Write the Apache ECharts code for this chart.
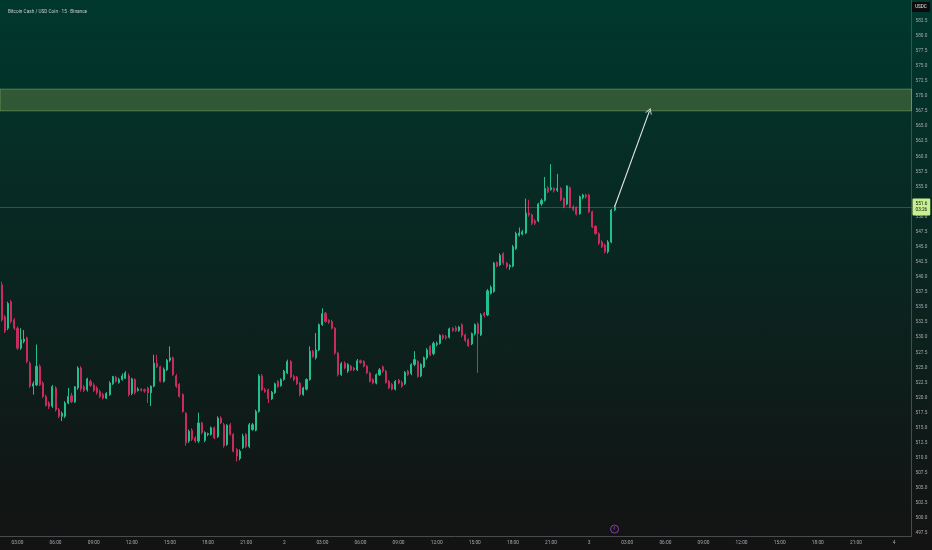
<!DOCTYPE html>
<html>
<head>
<meta charset="utf-8">
<script src="https://cdn.jsdelivr.net/npm/echarts@6/dist/echarts.min.js"></script>
<style>
html,body{margin:0;padding:0;background:#131313;}
#chart{width:932px;height:550px;background:linear-gradient(to bottom,#00382d 0px,#131313 536px,#131313 550px);}
</style>
</head>
<body>
<div id="chart"></div>
<script>
// ---------- DATA ----------
const chartTitle = 'Bitcoin Cash / USD Coin · 15 · Binance';
const quoteCurrency = 'USDC';

// 15-minute slots, starting day 1 01:45
const times = [];
for (let i = 0; i < 287; i++) {
  const t = 105 + 15 * i;
  const day = 1 + Math.floor(t / 1440);
  const m = t % 1440;
  const hh = String(Math.floor(m / 60)).padStart(2, '0');
  const mm = String(m % 60).padStart(2, '0');
  times.push(day + ' ' + hh + ':' + mm);
}

const opens = [
  538.7, 533.4, 531.5, 535.9, 532.9, 531.5, 528.2, 529.3, 529.9, 525.7,
  521.9, 522.1, 525.2, 522.4, 520.2, 519.1, 518.6, 521.6, 518.0, 516.9,
  516.9, 519.1, 520.3, 519.3, 521.6, 524.9, 521.8, 521.3, 522.7, 522.1,
  521.6, 521.0, 520.5, 519.9, 520.5, 522.3, 523.4, 522.5, 523.0, 523.2,
  523.6, 520.7, 523.0, 521.2, 521.4, 521.3, 521.6, 520.8, 521.9, 525.7,
  525.1, 522.7, 524.6, 526.2, 526.6, 523.6, 522.2, 520.5, 517.4, 512.8,
  514.6, 513.3, 512.8, 515.8, 512.9, 513.9, 513.9, 515.0, 513.5, 516.6,
  515.5, 512.2, 515.5, 513.9, 511.4, 509.9, 511.7, 513.9, 511.9, 514.7,
  514.6, 517.7, 523.6, 521.3, 521.3, 519.8, 520.8, 522.7, 522.0, 523.0,
  524.1, 526.0, 523.5, 523.4, 522.4, 520.5, 521.4, 523.0, 527.7, 526.6,
  527.9, 532.1, 534.0, 532.8, 532.6, 531.5, 527.4, 523.8, 525.7, 524.4,
  525.2, 524.9, 524.6, 526.1, 526.0, 525.2, 524.1, 523.0, 522.4, 523.8,
  525.1, 524.4, 522.7, 522.2, 521.4, 522.9, 522.5, 522.3, 524.4, 524.0,
  525.5, 526.0, 523.6, 525.1, 526.6, 528.5, 527.3, 528.8, 529.0, 530.3,
  530.1, 530.0, 531.5, 531.6, 531.1, 532.1, 530.4, 529.6, 528.9, 530.6,
  532.2, 530.4, 534.0, 533.7, 537.3, 537.6, 542.4, 542.0, 543.9, 542.3,
  541.7, 541.8, 544.7, 546.9, 547.1, 547.3, 550.6, 550.3, 549.3, 549.3,
  552.1, 552.7, 554.8, 554.5, 554.7, 554.4, 554.7, 553.0, 552.1, 554.8,
  551.6, 551.5, 550.5, 553.2, 553.6, 553.6, 550.8, 548.4, 547.2, 545.8,
  545.3, 544.2, 545.8, 551.1
];
const closes = [
  532.9, 531.0, 535.6, 532.6, 531.5, 528.2, 529.6, 529.7, 526.0, 521.9,
  522.3, 525.2, 522.1, 520.2, 518.7, 518.5, 521.8, 518.0, 516.9, 517.4,
  519.1, 520.2, 519.3, 521.8, 524.9, 521.4, 521.2, 523.1, 522.0, 521.2,
  520.8, 520.2, 519.9, 520.7, 522.4, 523.5, 522.7, 523.0, 523.6, 524.1,
  520.5, 523.1, 520.8, 521.4, 521.2, 521.1, 520.8, 521.9, 525.7, 525.1,
  522.7, 524.7, 526.2, 526.6, 523.8, 521.9, 520.2, 517.7, 512.5, 514.4,
  513.1, 512.8, 515.8, 514.2, 514.2, 514.0, 515.0, 513.3, 516.6, 515.8,
  512.0, 515.4, 513.9, 511.1, 510.3, 511.1, 513.6, 511.9, 515.5, 515.5,
  517.7, 523.6, 521.3, 521.0, 519.8, 520.9, 522.3, 521.8, 523.0, 524.4,
  526.0, 523.4, 523.0, 522.3, 520.5, 521.6, 523.0, 527.7, 526.8, 527.9,
  532.1, 533.9, 532.6, 532.5, 531.5, 527.4, 523.8, 525.6, 524.9, 525.5,
  524.6, 524.6, 526.1, 525.8, 525.2, 524.1, 522.7, 522.4, 523.8, 524.6,
  524.4, 522.5, 521.6, 521.4, 522.7, 522.4, 521.9, 524.2, 523.8, 525.5,
  526.3, 523.5, 525.5, 526.6, 527.9, 527.1, 529.0, 529.0, 530.3, 529.9,
  529.9, 531.4, 531.1, 531.1, 531.7, 530.3, 529.5, 528.6, 530.6, 532.1,
  530.6, 533.7, 533.6, 537.7, 538.3, 542.3, 541.8, 543.6, 542.3, 541.7,
  541.9, 545.0, 547.2, 547.3, 547.5, 550.6, 550.3, 548.9, 548.9, 552.1,
  552.7, 554.7, 554.1, 554.8, 554.3, 554.7, 552.8, 551.6, 555.1, 551.6,
  551.2, 550.4, 553.3, 553.6, 553.3, 550.8, 548.3, 547.2, 545.6, 545.0,
  544.2, 545.8, 551.1, 551.6
];
const lows = [
  532.6, 530.7, 531.2, 532.3, 531.2, 527.9, 527.9, 529.0, 525.7, 521.6,
  520.5, 521.9, 521.9, 519.9, 518.5, 518.1, 518.3, 517.7, 516.6, 516.1,
  516.6, 518.9, 519.1, 519.1, 521.3, 521.0, 520.9, 521.0, 521.8, 520.9,
  520.5, 519.9, 519.7, 519.8, 520.3, 522.1, 522.5, 522.3, 522.8, 523.1,
  520.2, 520.4, 520.5, 521.0, 521.0, 520.8, 519.1, 518.6, 521.7, 524.9,
  522.5, 522.5, 524.4, 525.9, 523.6, 521.6, 520.0, 517.5, 512.0, 512.5,
  512.8, 512.5, 512.5, 513.9, 512.6, 513.6, 513.7, 513.1, 513.3, 515.6,
  511.7, 512.0, 513.7, 510.9, 509.4, 509.6, 511.5, 511.6, 511.6, 514.5,
  514.4, 517.5, 521.1, 520.8, 519.1, 519.6, 520.6, 521.6, 521.8, 522.8,
  523.9, 523.2, 522.7, 522.1, 520.2, 520.3, 521.2, 522.8, 526.6, 526.3,
  527.7, 531.9, 532.4, 532.2, 531.3, 527.1, 523.5, 523.6, 524.7, 524.1,
  524.4, 524.4, 524.4, 525.6, 525.0, 523.9, 522.5, 522.2, 522.2, 523.6,
  524.1, 522.3, 521.4, 521.2, 521.2, 522.2, 521.6, 522.1, 523.6, 523.7,
  525.2, 523.3, 523.4, 524.9, 526.3, 526.9, 527.0, 528.5, 528.8, 529.6,
  529.6, 529.8, 530.9, 530.9, 530.9, 530.0, 529.2, 528.4, 528.7, 530.3,
  524.1, 530.2, 533.3, 533.5, 537.1, 537.4, 541.6, 541.8, 542.0, 541.4,
  541.2, 541.6, 544.5, 546.7, 546.9, 547.1, 550.0, 548.6, 548.6, 549.1,
  551.8, 552.5, 553.9, 554.3, 554.0, 554.1, 552.6, 551.4, 551.9, 551.4,
  550.9, 550.2, 550.3, 552.9, 553.0, 550.6, 548.1, 547.0, 545.3, 544.8,
  543.9, 543.9, 545.6, 550.9
];
const highs = [
  539.2, 533.7, 535.9, 536.2, 533.2, 531.8, 531.5, 531.2, 530.1, 526.0,
  522.7, 528.8, 525.5, 522.7, 520.5, 519.4, 522.1, 521.9, 518.3, 517.7,
  519.4, 521.6, 520.8, 521.9, 525.2, 525.2, 522.1, 523.3, 523.0, 522.4,
  521.9, 521.3, 520.8, 520.9, 522.7, 523.6, 523.6, 523.3, 524.0, 524.4,
  524.0, 523.3, 523.2, 521.7, 521.6, 521.5, 521.8, 522.0, 527.1, 527.1,
  525.3, 525.0, 526.4, 528.5, 526.8, 523.9, 522.4, 520.7, 517.6, 514.7,
  514.9, 513.6, 517.5, 516.0, 514.4, 514.2, 515.2, 515.2, 516.9, 516.9,
  515.8, 515.6, 515.8, 514.1, 511.6, 511.4, 514.0, 514.1, 515.8, 515.8,
  518.0, 523.9, 523.9, 521.6, 521.5, 521.1, 522.5, 522.9, 523.2, 524.6,
  526.3, 526.2, 523.8, 523.6, 522.6, 521.8, 523.2, 528.5, 527.9, 530.7,
  532.3, 534.8, 534.2, 533.0, 532.9, 531.7, 527.6, 525.9, 526.0, 525.7,
  525.4, 525.1, 526.4, 526.3, 526.2, 525.4, 524.3, 523.2, 524.0, 524.9,
  525.3, 524.6, 522.9, 522.4, 522.9, 523.1, 522.8, 524.4, 524.6, 525.7,
  527.7, 526.2, 525.7, 526.8, 528.2, 528.7, 529.3, 529.3, 530.5, 530.5,
  530.4, 531.6, 531.7, 531.9, 531.9, 532.3, 530.6, 529.8, 530.8, 532.3,
  532.5, 534.0, 534.2, 538.0, 538.6, 542.5, 542.6, 543.9, 544.1, 542.5,
  542.1, 545.3, 547.5, 548.2, 547.8, 553.0, 552.8, 550.5, 549.6, 552.3,
  553.0, 556.6, 555.1, 558.7, 554.9, 557.1, 554.9, 553.2, 555.2, 555.0,
  551.9, 551.7, 553.5, 553.8, 553.8, 553.8, 551.0, 548.6, 547.4, 546.1,
  545.5, 546.1, 551.3, 551.9
];

const priceTicks = [497.5, 500.0, 502.5, 505.0, 507.5, 510.0, 512.5, 515.0, 517.5, 520.0,
  522.5, 525.0, 527.5, 530.0, 532.5, 535.0, 537.5, 540.0, 542.5, 545.0, 547.5, 550.0,
  552.5, 555.0, 557.5, 560.0, 562.5, 565.0, 567.5, 570.0, 572.5, 575.0, 577.5, 580.0, 582.5];

const lastPrice = 551.6;
const countdown = '03:26';
const zoneTop = 571.15;
const zoneBottom = 567.55;
const arrowFromIndex = 193;
const arrowToIndex = 204;
const eventMarks = [[times[193], 498.2]];

// ---------- CHART ----------
const UP = '#22bf91';
const DOWN = '#c82b5c';
const FONT = 'Roboto, "Liberation Sans", sans-serif';
const candleData = opens.map((o, i) => [o, closes[i], lows[i], highs[i]]);
const chevron = 'path://M0,10 L5,0 L10,10 L8.6,10 L5,2.8 L1.4,10 Z';

const chart = echarts.init(document.getElementById('chart'), null, { renderer: 'canvas' });
const option = {
  animation: false,
  backgroundColor: 'transparent',
  title: {
    text: chartTitle, left: 3, top: 4,
    textStyle: { color: '#c9ccd1', fontSize: 4.7, fontWeight: 'normal', fontFamily: FONT }
  },
  grid: { left: -1.1, right: 20.5, top: 0, bottom: 14, containLabel: false },
  xAxis: {
    type: 'category', data: times, boundaryGap: true,
    axisLine: { show: true, lineStyle: { color: '#4a4b4f', width: 1 } },
    axisTick: { show: false }, splitLine: { show: false },
    axisLabel: {
      interval: function (idx, val) {
        const hm = val.split(' ')[1].split(':').map(Number);
        return hm[1] === 0 && hm[0] % 3 === 0;
      },
      formatter: function (val) {
        const p = val.split(' ');
        return p[1] === '00:00' ? p[0] : p[1];
      },
      color: '#a6a9ae', fontSize: 4.8, margin: 4, fontFamily: FONT, hideOverlap: false
    }
  },
  yAxis: {
    type: 'value', position: 'right', min: 497.05, max: 585.93,
    axisLine: { show: true, lineStyle: { color: '#4a4b4f', width: 1 } },
    axisTick: { show: false }, splitLine: { show: false },
    axisLabel: {
      customValues: priceTicks,
      formatter: v => v.toFixed(1),
      color: '#a6a9ae', fontSize: 4.7, margin: 4, fontFamily: FONT
    }
  },
  graphic: [{
    type: 'group', left: 912, top: 2,
    children: [
      { type: 'rect', shape: { x: 0, y: 0, width: 18, height: 10, r: 1 }, style: { fill: '#0b0b0b' } },
      { type: 'text', x: 9, y: 5, style: { text: quoteCurrency, fill: '#e8e8e8', font: '4.6px Roboto', align: 'center', verticalAlign: 'middle' } }
    ]
  }],
  series: [
    {
      type: 'candlestick',
      data: candleData,
      barWidth: '50%',
      itemStyle: { color: UP, color0: DOWN, borderColor: UP, borderColor0: DOWN, borderWidth: 1 },
      markArea: {
        silent: true,
        itemStyle: { color: 'rgba(140,170,80,0.33)', borderColor: 'rgba(160,210,120,0.55)', borderWidth: 0.8 },
        data: [[{ yAxis: zoneTop }, { yAxis: zoneBottom }]]
      },
      markLine: {
        silent: true, animation: false,
        symbol: ['none', 'none'],
        label: { show: false },
        lineStyle: { color: '#e6e6e6', width: 1.1, type: 'solid' },
        data: [
          {
            yAxis: lastPrice, symbol: 'none',
            lineStyle: { color: 'rgba(110,190,140,0.32)', width: 1, type: 'solid' },
            label: {
              show: true, position: 'end', distance: 1,
              formatter: lastPrice.toFixed(1) + '\n' + countdown,
              backgroundColor: '#c8f08f', color: '#101010', fontSize: 4.7, lineHeight: 6.5,
              padding: [2, 3], borderRadius: 1, fontFamily: FONT
            }
          },
          [
            { coord: [times[arrowFromIndex], lastPrice], symbol: 'none' },
            { coord: [times[arrowToIndex], zoneBottom], symbol: chevron, symbolSize: [7, 6], itemStyle: { color: '#e6e6e6' } }
          ]
        ]
      }
    },
    {
      type: 'scatter',
      data: eventMarks,
      symbol: 'circle', symbolSize: 8, silent: true, z: 3,
      itemStyle: { color: 'rgba(0,0,0,0)', borderColor: '#a04ccc', borderWidth: 1 },
      label: { show: true, position: 'inside', formatter: 'ℓ', color: '#a04ccc', fontSize: 5, fontFamily: FONT }
    }
  ]
};
chart.setOption(option);
</script>
</body>
</html>
